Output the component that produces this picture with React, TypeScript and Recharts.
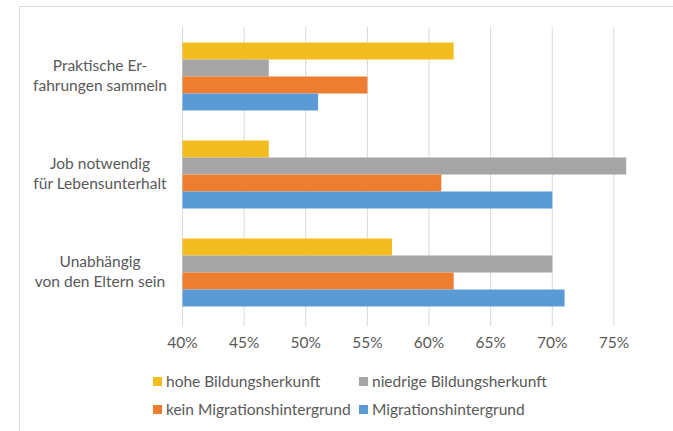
import { BarChart, Bar, XAxis, YAxis, CartesianGrid } from "recharts";

const CATEGORIES = [
  "Praktische Er-\nfahrungen sammeln",
  "Job notwendig\nfür Lebensunterhalt",
  "Unabhängig\nvon den Eltern sein",
];
const HOHE_BILDUNG = [62, 47, 57];
const NIEDRIGE_BILDUNG = [47, 76, 70];
const KEIN_MIGRATION = [55, 61, 62];
const MIGRATION = [51, 70, 71];
const X_TICKS = [40, 45, 50, 55, 60, 65, 70, 75, 80];

const SERIES = [
  { key: "hohe", label: "hohe Bildungsherkunft", color: "#F2BD1F", values: HOHE_BILDUNG },
  { key: "niedrig", label: "niedrige Bildungsherkunft", color: "#A5A5A5", values: NIEDRIGE_BILDUNG },
  { key: "kein", label: "kein Migrationshintergrund", color: "#ED7D31", values: KEIN_MIGRATION },
  { key: "migr", label: "Migrationshintergrund", color: "#5B9BD5", values: MIGRATION },
];

const data = CATEGORIES.map((name, i) => {
  const row: Record<string, string | number> = { name };
  SERIES.forEach((s) => (row[s.key] = s.values[i]));
  return row;
});

const FONT = "Lato, 'Open Sans', sans-serif";
const TEXT = "#595959";
const FS = 15.5;

function CategoryTick({ y, payload }: any) {
  const lines = String(payload.value).split("\n");
  return (
    <text x={100} y={y} textAnchor="middle" fill={TEXT} fontSize={FS} fontFamily={FONT}>
      {lines.map((l, i) => (
        <tspan key={i} x={100} dy={i === 0 ? -5.5 : 20.5}>
          {l}
        </tspan>
      ))}
    </text>
  );
}

// legend laid out in two columns like the original
const LEGEND_POS = [
  { left: 153, top: 371 },
  { left: 359, top: 371 },
  { left: 153, top: 399 },
  { left: 359, top: 399 },
];

export default function App() {
  return (
    <div style={{ position: "relative", width: 673, height: 431, overflow: "hidden", background: "#fff" }}>
      <style>{"body{margin:0}"}</style>
      <div
        style={{
          position: "absolute",
          left: 19,
          top: 6,
          width: 720,
          height: 500,
          border: "1px solid #D9D9D9",
        }}
      />
      <BarChart
        width={700}
        height={431}
        data={data}
        layout="vertical"
        margin={{ top: 27, right: 24.5, left: 0, bottom: 70 }}
        barCategoryGap={15.5}
        barGap={0}
        style={{ position: "absolute", left: 0, top: 0 }}
      >
        <CartesianGrid horizontal={false} stroke="#D9D9D9" />
        <XAxis
          type="number"
          domain={[40, 80]}
          ticks={X_TICKS}
          tickFormatter={(v) => (v >= 80 ? "" : `${v}%`)}
          axisLine={false}
          tickLine={{ stroke: "#D9D9D9" }}
          tickSize={5}
          tickMargin={11}
          height={40}
          tick={{ fill: TEXT, fontSize: FS, fontFamily: FONT }}
        />
        <YAxis
          type="category"
          dataKey="name"
          width={182.5}
          axisLine={false}
          tickLine={false}
          tick={<CategoryTick />}
        />
        {SERIES.map((s) => (
          <Bar key={s.key} dataKey={s.key} fill={s.color} isAnimationActive={false} />
        ))}
      </BarChart>
      {SERIES.map((s, i) => (
        <div
          key={s.key}
          style={{
            position: "absolute",
            left: LEGEND_POS[i].left,
            top: LEGEND_POS[i].top,
            display: "flex",
            alignItems: "center",
            fontFamily: FONT,
            fontSize: FS,
            color: TEXT,
            whiteSpace: "nowrap",
            lineHeight: "20px",
          }}
        >
          <span style={{ width: 9, height: 9, background: s.color, marginRight: 4, display: "inline-block" }} />
          {s.label}
        </div>
      ))}
    </div>
  );
}
